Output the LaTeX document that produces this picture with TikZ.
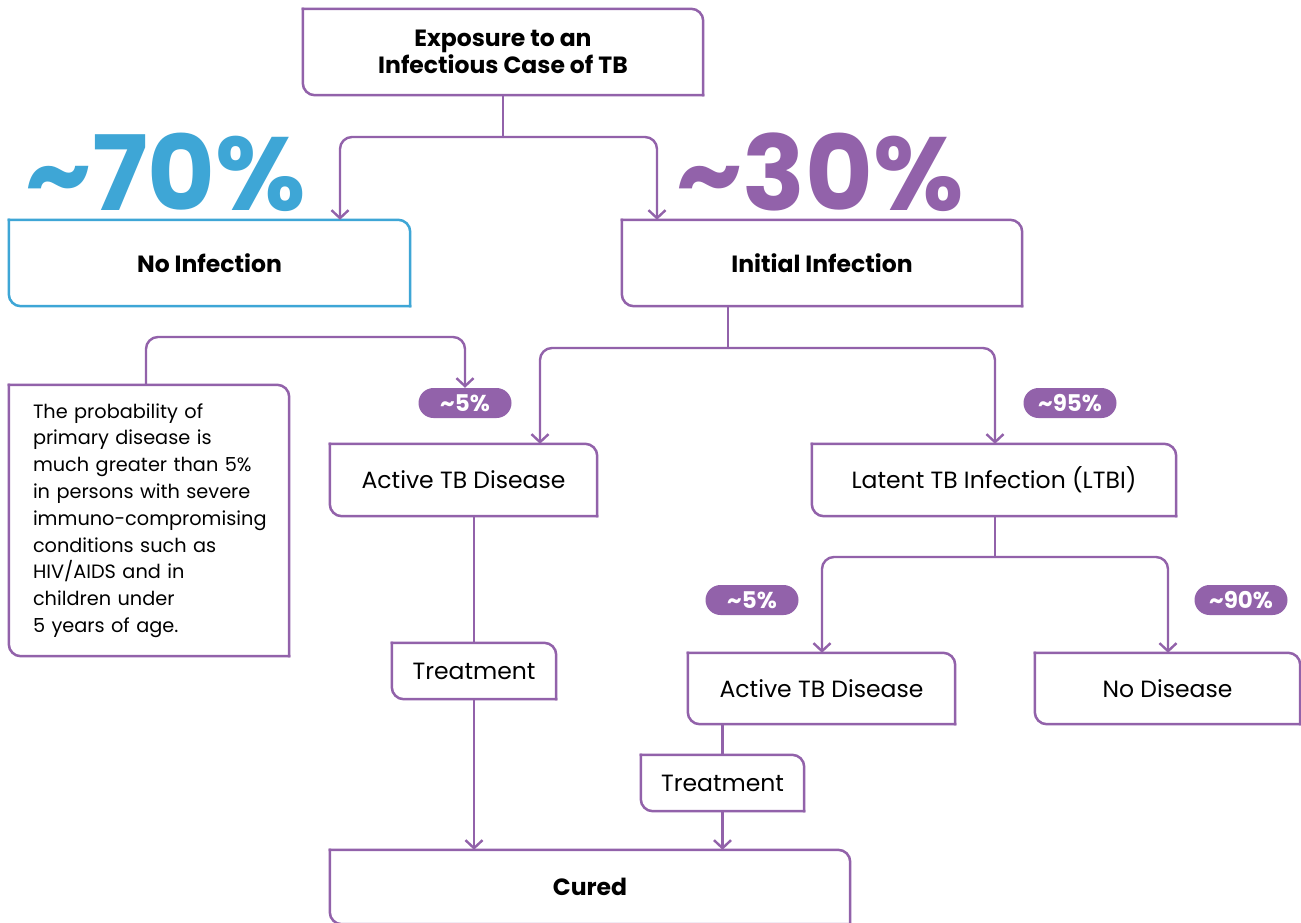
\documentclass[tikz,border=0pt]{standalone}
\usepackage{fontspec}
\setmainfont{Poppins}
\usetikzlibrary{arrows.meta}
\definecolor{tbp}{RGB}{146,98,170}
\definecolor{tbb}{RGB}{62,166,214}
\begin{document}
\begin{tikzpicture}[x=1pt,y=-1pt,
  tbox/.style={rectangle, inner sep=0pt, align=center, font=\fontsize{23.5}{27}\selectfont},
  hbox/.style={tbox, font=\fontsize{23.5}{26.5}\selectfont\bfseries},
  frame/.style={line width=2.5pt, line cap=rect, rounded corners=12pt},
  conn/.style={draw=tbp, line width=2.4pt, rounded corners=12pt},
  arr/.style={conn, -{Straight Barb[length=8pt,width=17pt]}},
  pill/.style={rectangle, rounded corners=15pt, fill=tbp, text=white, minimum width=93pt, minimum height=30pt, inner sep=0pt, font=\fontsize{23}{24}\selectfont\bfseries},
  big/.style={inner sep=0pt, font=\fontsize{104}{104}\selectfont\bfseries}
]
\clip (0,0) rectangle (1301,922);
\fill[white] (0,0) rectangle (1301,922);

% boxes
\node[hbox, minimum width=400pt, minimum height=86pt] (exp) at (503,52) {Exposure to an\\Infectious Case of TB};
\node[hbox, minimum width=401pt, minimum height=86pt] (noinf) at (209.5,263) {No Infection};
\node[hbox, minimum width=400pt, minimum height=86pt] (init) at (822,263) {Initial Infection};
\node[tbox, minimum width=280pt, minimum height=271pt, text width=232pt, align=left, font=\fontsize{19.3}{26.8}\selectfont] (note) at (149,520.5)
  {The probability of\\primary disease is\\much greater than 5\%\\in persons with severe\\\mbox{immuno-compromising}\\conditions such as\\HIV/AIDS and in\\children under\\5 years of age.};
\node[tbox, minimum width=267pt, minimum height=72pt] (act1) at (463.5,480) {Active TB Disease};
\node[tbox, minimum width=364pt, minimum height=72pt] (lat) at (994,480) {Latent TB Infection (LTBI)};
\node[tbox, minimum width=267pt, minimum height=71pt] (act2) at (821.5,688.5) {Active TB Disease};
\node[tbox, minimum width=265pt, minimum height=71pt] (nodis) at (1167.5,688.5) {No Disease};
\node[tbox, minimum width=164pt, minimum height=56pt] (treat1) at (474,671) {Treatment};
\node[tbox, minimum width=163pt, minimum height=56pt] (treat2) at (722.5,783) {Treatment};
\node[hbox, minimum width=520pt, minimum height=74pt] (cured) at (590,887) {Cured};

\foreach \n/\c in {exp/tbp, noinf/tbb, init/tbp, note/tbp, act1/tbp, lat/tbp, act2/tbp, nodis/tbp, treat1/tbp, treat2/tbp, cured/tbp}{
  \draw[frame, draw=\c] (\n.north west) -- (\n.north east) -- (\n.south east);
  \draw[frame, draw=\c] (\n.south east) -- (\n.south west) -- (\n.north west);
}

% big percentages
\node[big, text=tbb] (b70) at (166,172) {\textasciitilde70\%};
\node[big, text=tbp] (b30) at (820,172) {\textasciitilde30\%};

% pills
\node[pill] (p1) at (465,403) {\textasciitilde5\%};
\node[pill] (p2) at (1070,403) {\textasciitilde95\%};
\node[pill] (p3) at (752,600) {\textasciitilde5\%};
\node[pill] (p4) at (1241,600) {\textasciitilde90\%};

% junction coordinates
\coordinate (j1) at (503,137);
\coordinate (x1) at (340,0);
\coordinate (x2) at (657,0);
\coordinate (k1) at (146,337);
\coordinate (j2) at (728,348);
\coordinate (x3) at (540,0);
\coordinate (x4) at (995,0);
\coordinate (j3) at (995,557);
\coordinate (x5) at (822,0);
\coordinate (x6) at (1168,0);

% connectors
\draw[conn] (exp.south) -- (j1);
\draw[arr] (j1) -| (x1 |- noinf.north);
\draw[arr] (j1) -| (x2 |- init.north);

\draw[arr] (note.north -| k1) -- (k1) -| (p1.north);

\draw[conn] (init.south -| j2) -- (j2);
\draw[arr] (j2) -| (x3 |- act1.north);
\draw[arr] (j2) -| (x4 |- lat.north);

\draw[conn] (lat.south -| j3) -- (j3);
\draw[arr] (j3) -| (x5 |- act2.north);
\draw[arr] (j3) -| (x6 |- nodis.north);

\draw[conn] (act1.south -| treat1.north) -- (treat1.north);
\draw[arr] (treat1.south) -- (treat1.south |- cured.north);
\draw[conn] (act2.south -| treat2.north) -- (treat2.north);
\draw[arr] (treat2.south) -- (treat2.south |- cured.north);
\end{tikzpicture}
\end{document}
